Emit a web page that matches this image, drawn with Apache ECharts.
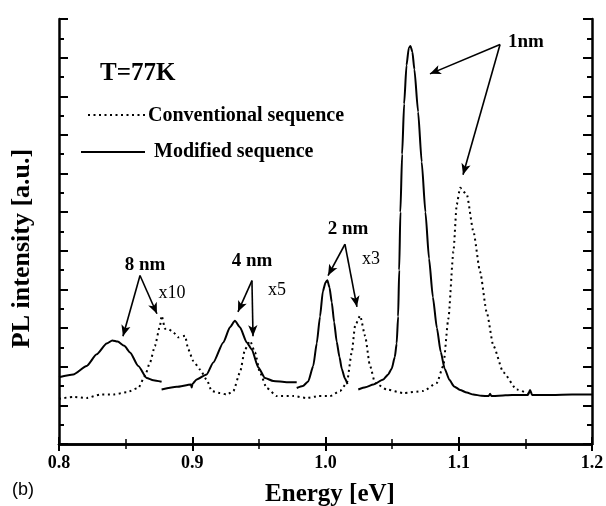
<!DOCTYPE html>
<html>
<head>
<meta charset="utf-8">
<script src="https://cdn.jsdelivr.net/npm/echarts@6/dist/echarts.min.js"></script>
<style>html,body{margin:0;padding:0;background:#fff;}#c{width:606px;height:506px;}</style>
</head>
<body>
<div id="c"></div>
<script>
// ---- data (energy in eV, PL intensity in a.u.) ----
const xTickValues = [0.8, 0.9, 1.0, 1.1, 1.2];
const xTickLabels = ['0.8', '0.9', '1.0', '1.1', '1.2'];

const conventional = [[0.8,1.17],[0.8107,1.22],[0.8208,1.19],[0.8308,1.28],[0.8408,1.28],[0.8508,1.34],[0.8595,1.45],[0.8645,1.76],[0.8683,2.11],[0.872,2.54],[0.8758,3.06],[0.877,3.32],[0.8796,2.98],[0.882,2.98],[0.8858,2.89],[0.8895,2.76],[0.8946,2.8],[0.897,2.45],[0.9008,2.15],[0.9058,1.93],[0.9108,1.67],[0.9146,1.37],[0.9208,1.32],[0.9259,1.28],[0.9308,1.37],[0.9358,1.85],[0.9396,2.45],[0.9434,2.67],[0.9471,2.37],[0.9508,1.85],[0.9559,1.45],[0.9634,1.24],[0.9759,1.24],[0.9859,1.19],[0.9946,1.24],[1.0034,1.24],[1.0109,1.37],[1.016,1.58],[1.0197,2.37],[1.0222,3.06],[1.026,3.32],[1.0297,2.8],[1.0334,2.02],[1.0372,1.58],[1.046,1.41],[1.0582,1.32],[1.0734,1.37],[1.0835,1.58],[1.0884,2.02],[1.0922,3.24],[1.096,4.98],[1.0985,6.2],[1.101,6.63],[1.106,6.46],[1.111,5.5],[1.116,4.46],[1.121,3.41],[1.126,2.54],[1.1335,1.85],[1.1435,1.41],[1.1535,1.28]];

const modified8nm = [[0.8,1.73],[0.8107,1.8],[0.8208,2.02],[0.8283,2.32],[0.8358,2.6],[0.84,2.68],[0.844,2.65],[0.849,2.54],[0.8533,2.37],[0.8595,2.02],[0.8658,1.71],[0.8708,1.65],[0.877,1.61]];
const modified4nm = [[0.877,1.41],[0.8883,1.48],[0.899,1.54],[0.8996,1.46],[0.9002,1.56],[0.9033,1.67],[0.9108,1.8],[0.9158,2.11],[0.9233,2.63],[0.9283,3.02],[0.932,3.19],[0.9358,3.02],[0.9409,2.63],[0.9446,2.45],[0.9496,1.98],[0.9546,1.71],[0.9608,1.63],[0.9709,1.6],[0.9784,1.6]];
const modified2nm = [[0.9784,1.45],[0.983,1.5],[0.987,1.62],[0.9908,2.02],[0.9934,2.6],[0.9959,3.3],[0.998,3.95],[1.0,4.18],[1.0014,4.24],[1.003,4.05],[1.0047,3.67],[1.0065,3.15],[1.0084,2.65],[1.0105,2.25],[1.0122,1.95],[1.0145,1.7],[1.0165,1.55]];
const modified1nm = [[1.0246,1.41],[1.03,1.47],[1.0359,1.54],[1.0434,1.67],[1.047,1.8],[1.0497,1.95],[1.052,2.25],[1.0534,2.6],[1.0545,3.3],[1.0553,4.5],[1.0562,6.0],[1.0575,7.5],[1.059,8.8],[1.0608,9.8],[1.0625,10.25],[1.0638,10.3],[1.0652,10.15],[1.0667,9.7],[1.0695,8.6],[1.0722,7.3],[1.075,6.0],[1.0777,4.8],[1.0806,3.8],[1.0836,3.0],[1.0865,2.38],[1.0894,1.95],[1.093,1.66],[1.0965,1.49],[1.101,1.4],[1.106,1.33],[1.111,1.28],[1.117,1.25],[1.1225,1.24],[1.1235,1.3],[1.1245,1.24],[1.13,1.25],[1.14,1.27],[1.152,1.27],[1.1535,1.4],[1.155,1.27],[1.17,1.27],[1.185,1.28],[1.2,1.28]];

// ---- annotation arrows (apex -> tips), in data coordinates ----
const arrowGroups = [
  { apex: [1.131, 10.34], tips: [[1.0784, 9.58], [1.1032, 6.97]] },
  { apex: [1.0146, 5.17], tips: [[1.0019, 4.36], [1.0236, 3.55]] },
  { apex: [0.9448, 4.23], tips: [[0.9343, 3.42], [0.9456, 2.79]] },
  { apex: [0.8608, 4.36], tips: [[0.848, 2.79], [0.8735, 3.37]] }
];

const serif = "'Liberation Serif', 'Times New Roman', serif";
const arrowLines = [];
arrowGroups.forEach(g => g.tips.forEach(t => arrowLines.push([{ coord: g.apex }, { coord: t }])));

function solid(name, data) {
  return {
    type: 'line', name: name, data: data, showSymbol: false, smooth: 0.2, smoothMonotone: 'x',
    lineStyle: { color: '#000', width: 2 }, silent: true
  };
}

const chart = echarts.init(document.getElementById('c'));
const axisLineStyle = { color: '#000', width: 2.5 };
chart.setOption({
  animation: false,
  backgroundColor: '#fff',
  grid: { left: 59, right: 14, top: 19, bottom: 62, containLabel: false, outerBoundsMode: 'none' },
  xAxis: [{
    type: 'value', min: 0.8, max: 1.2, interval: 0.1, position: 'bottom',
    name: 'Energy [eV]', nameLocation: 'middle', nameGap: 38,
    nameTextStyle: { fontFamily: serif, fontSize: 25, fontWeight: 'bold', color: '#000', padding: [0, 0, 0, 9] },
    axisLine: { lineStyle: axisLineStyle },
    axisTick: { inside: true, length: 7, lineStyle: { color: '#000', width: 2 } },
    minorTick: { show: true, splitNumber: 2, length: 5, lineStyle: { color: '#000', width: 1.5 } },
    axisLabel: { fontFamily: serif, fontSize: 18, fontWeight: 'bold', color: '#000', margin: 10,
      formatter: v => { const i = xTickValues.findIndex(t => Math.abs(t - v) < 1e-6); return i >= 0 ? xTickLabels[i] : ''; } },
    splitLine: { show: false }
  }, {
    type: 'value', min: 0.8, max: 1.2, interval: 0.1, position: 'top',
    axisLine: { lineStyle: axisLineStyle },
    axisTick: { inside: true, length: 7, lineStyle: { color: '#000', width: 2 } },
    minorTick: { show: true, splitNumber: 2, length: 5, lineStyle: { color: '#000', width: 1.5 } },
    axisLabel: { show: false }, splitLine: { show: false }
  }],
  yAxis: [{
    type: 'value', min: 0, max: 11, interval: 1, position: 'left',
    name: 'PL intensity [a.u.]', nameLocation: 'middle', nameGap: 24, nameRotate: 90,
    nameTextStyle: { fontFamily: serif, fontSize: 26, fontWeight: 'bold', color: '#000', padding: [0, 34, 0, 0] },
    axisLine: { lineStyle: axisLineStyle },
    axisTick: { inside: true, length: 9, lineStyle: { color: '#000', width: 2 } },
    minorTick: { show: true, splitNumber: 2, length: 5, lineStyle: { color: '#000', width: 2 } },
    axisLabel: { show: false }, splitLine: { show: false }
  }, {
    type: 'value', min: 0, max: 11, interval: 1, position: 'right',
    axisLine: { lineStyle: axisLineStyle },
    axisTick: { inside: true, length: 9, lineStyle: { color: '#000', width: 2 } },
    minorTick: { show: true, splitNumber: 2, length: 5, lineStyle: { color: '#000', width: 2 } },
    axisLabel: { show: false }, splitLine: { show: false }
  }],
  series: [
    {
      type: 'line', name: 'Conventional sequence', data: conventional, showSymbol: false, smooth: 0.2, smoothMonotone: 'x',
      lineStyle: { color: '#000', width: 2, type: [2, 3.5] }, silent: true,
      markLine: {
        silent: true, symbol: ['none', 'arrow'], symbolSize: [7, 11],
        lineStyle: { color: '#000', width: 1.6, type: 'solid' }, label: { show: false },
        emphasis: { disabled: true }, data: arrowLines
      }
    },
    solid('Modified sequence 8 nm', modified8nm),
    solid('Modified sequence 4 nm', modified4nm),
    solid('Modified sequence 2 nm', modified2nm),
    solid('Modified sequence 1 nm', modified1nm)
  ],
  graphic: [
    { type: 'text', left: 100, top: 61, style: { text: 'T=77K', font: 'bold 25px ' + serif, fill: '#000' } },
    { type: 'line', shape: { x1: 88, y1: 115, x2: 145, y2: 115 }, style: { stroke: '#000', lineWidth: 2, lineDash: [2, 3.5] } },
    { type: 'text', x: 148, y: 116, style: { text: 'Conventional sequence', font: 'bold 20px ' + serif, fill: '#000', textVerticalAlign: 'middle' } },
    { type: 'line', shape: { x1: 81, y1: 152, x2: 145, y2: 152 }, style: { stroke: '#000', lineWidth: 2 } },
    { type: 'text', x: 154, y: 152, style: { text: 'Modified sequence', font: 'bold 20px ' + serif, fill: '#000', textVerticalAlign: 'middle' } },
    { type: 'text', x: 526, y: 42, style: { text: '1nm', font: 'bold 19px ' + serif, fill: '#000', textAlign: 'center', textVerticalAlign: 'middle' } },
    { type: 'text', x: 348, y: 229, style: { text: '2 nm', font: 'bold 19px ' + serif, fill: '#000', textAlign: 'center', textVerticalAlign: 'middle' } },
    { type: 'text', x: 371, y: 259, style: { text: 'x3', font: '18px ' + serif, fill: '#000', textAlign: 'center', textVerticalAlign: 'middle' } },
    { type: 'text', x: 252, y: 261, style: { text: '4 nm', font: 'bold 19px ' + serif, fill: '#000', textAlign: 'center', textVerticalAlign: 'middle' } },
    { type: 'text', x: 277, y: 290, style: { text: 'x5', font: '18px ' + serif, fill: '#000', textAlign: 'center', textVerticalAlign: 'middle' } },
    { type: 'text', x: 145, y: 265, style: { text: '8 nm', font: 'bold 19px ' + serif, fill: '#000', textAlign: 'center', textVerticalAlign: 'middle' } },
    { type: 'text', x: 172, y: 293, style: { text: 'x10', font: '18px ' + serif, fill: '#000', textAlign: 'center', textVerticalAlign: 'middle' } },
    { type: 'text', x: 12, y: 490, style: { text: '(b)', font: '18px "Liberation Sans", Arial, sans-serif', fill: '#000', textVerticalAlign: 'middle' } }
  ]
});
</script>
</body>
</html>
